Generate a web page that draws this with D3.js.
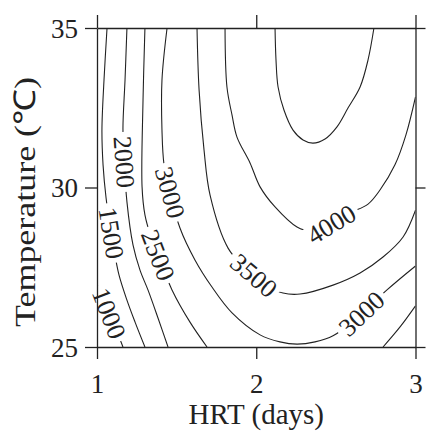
<!DOCTYPE html>
<html>
<head>
<meta charset="utf-8">
<script src="https://cdn.jsdelivr.net/npm/d3@7"></script>
<style>
  body { margin: 0; background: #fff; }
  text { font-family: "Liberation Serif", "Times New Roman", serif; fill: #222; }
</style>
</head>
<body>
<svg id="chart" width="428" height="431"></svg>
<script>
// Contour lines, in data units: [HRT (days), Temperature (C)]
const line1000 = [[1.000, 26.97], [1.038, 26.54], [1.082, 25.97], [1.126, 25.47], [1.163, 25.00]];
const line1500 = [[1.063, 35.00], [1.044, 33.37], [1.031, 31.80], [1.038, 30.71], [1.057, 29.67], [1.082, 28.82],
                  [1.107, 28.04], [1.138, 27.26], [1.188, 26.47], [1.239, 25.78], [1.301, 25.00]];
const line2000 = [[1.188, 35.00], [1.176, 33.37], [1.163, 31.87], [1.170, 30.86], [1.188, 29.55], [1.226, 28.20],
                  [1.270, 27.41], [1.320, 26.79], [1.383, 25.91], [1.446, 25.00]];
const line2500 = [[1.301, 35.00], [1.289, 32.74], [1.283, 30.02], [1.301, 29.14], [1.339, 28.45], [1.383, 27.88],
                  [1.471, 26.79], [1.584, 25.78], [1.691, 25.00]];
const line2500b = [[2.796, 25.00], [2.903, 25.63], [3.000, 26.29]];
const line3000 = [[1.440, 35.00], [1.408, 33.37], [1.408, 31.80], [1.421, 30.71], [1.458, 29.86], [1.521, 28.73],
                  [1.615, 27.73], [1.722, 26.88], [1.848, 26.07], [2.024, 25.38], [2.149, 25.16], [2.256, 25.09],
                  [2.369, 25.16], [2.482, 25.35], [2.652, 26.00], [2.821, 26.79], [3.000, 27.54]];
const line3500 = [[1.628, 35.00], [1.641, 33.06], [1.672, 31.18], [1.710, 29.76], [1.823, 28.10], [1.929, 27.48],
                  [2.055, 26.94], [2.168, 26.69], [2.275, 26.66], [2.482, 26.94], [2.652, 27.32], [2.796, 27.82],
                  [2.922, 28.45], [3.000, 29.29]];
const line4000 = [[1.804, 35.00], [1.816, 33.15], [1.848, 32.27], [1.879, 31.58], [1.961, 30.77], [2.024, 30.02],
                  [2.118, 29.39], [2.256, 28.76], [2.338, 28.64], [2.463, 28.82], [2.589, 29.20], [2.702, 29.48],
                  [2.777, 29.92], [2.871, 30.71], [2.940, 31.65], [3.000, 32.84]];
const line4500 = [[2.118, 35.00], [2.124, 34.00], [2.137, 33.15], [2.174, 32.43], [2.231, 31.80], [2.294, 31.49],
                  [2.356, 31.39], [2.432, 31.52], [2.507, 31.90], [2.576, 32.49], [2.652, 33.15], [2.702, 34.00],
                  [2.739, 35.00]];

const contourLevels = [1000, 1500, 2000, 2500, 2500, 3000, 3500, 4000, 4500];
const contourPoints = [line1000, line1500, line2000, line2500, line2500b, line3000, line3500, line4000, line4500];

// Where each contour label sits, in data units
const labelLevels = [1000, 1500, 2000, 2500, 3000, 3500, 4000, 3000];
const labelHrt    = [1.100, 1.088, 1.170, 1.383, 1.471, 1.998, 2.463, 2.651];
const labelTemp   = [26.10, 28.57, 30.80, 27.88, 29.86, 27.32, 28.92, 26.10];

const xTicks = [1, 2, 3];
const yTicks = [25, 30, 35];

const svg = d3.select("#chart");
const margin = { top: 28, right: 12.5, bottom: 84, left: 97 };
const width = +svg.attr("width");
const height = +svg.attr("height");

const x = d3.scaleLinear().domain([1, 3]).range([margin.left, width - margin.right]);
const y = d3.scaleLinear().domain([25, 35]).range([height - margin.bottom, margin.top]);

svg.append("clipPath").attr("id", "plot-clip")
  .append("rect")
  .attr("x", x(1)).attr("y", y(35))
  .attr("width", x(3) - x(1)).attr("height", y(25) - y(35));

// contour lines
const lineGen = d3.line()
  .x(d => x(d[0]))
  .y(d => y(d[1]))
  .curve(d3.curveCatmullRom.alpha(0.5));

svg.append("g")
  .attr("clip-path", "url(#plot-clip)")
  .selectAll("path")
  .data(contourPoints)
  .join("path")
  .attr("d", lineGen)
  .attr("fill", "none")
  .attr("stroke", "#222")
  .attr("stroke-width", 1.1);

// snap a label onto its contour and take the local direction
function placeOnContour(level, hx, ht) {
  const px = x(hx), py = y(ht);
  let best = null;
  contourPoints.forEach((pts, i) => {
    if (contourLevels[i] !== level) return;
    for (let k = 0; k < pts.length - 1; k++) {
      const ax = x(pts[k][0]), ay = y(pts[k][1]);
      const bx = x(pts[k + 1][0]), by = y(pts[k + 1][1]);
      const dx = bx - ax, dy = by - ay;
      let t = ((px - ax) * dx + (py - ay) * dy) / (dx * dx + dy * dy);
      t = Math.max(0, Math.min(1, t));
      const qx = ax + t * dx, qy = ay + t * dy;
      const dist = Math.hypot(px - qx, py - qy);
      if (!best || dist < best.dist) best = { dist, qx, qy, angle: Math.atan2(dy, dx) * 180 / Math.PI };
    }
  });
  let a = best.angle;
  if (a > 90) a -= 180;
  if (a <= -90) a += 180;
  return { x: best.qx, y: best.qy, angle: a };
}

const labelGroup = svg.append("g");
labelLevels.forEach((lv, i) => {
  const p = placeOnContour(lv, labelHrt[i], labelTemp[i]);
  const g = labelGroup.append("g")
    .attr("transform", `translate(${p.x},${p.y}) rotate(${p.angle})`);
  const rect = g.append("rect").attr("fill", "#fff");
  const t = g.append("text")
    .attr("text-anchor", "middle")
    .attr("dy", "0.34em")
    .style("font-size", "26px")
    .text(lv);
  const w = t.node().getComputedTextLength();
  rect.attr("x", -w / 2 - 4).attr("y", -10).attr("width", w + 8).attr("height", 20);
});

// axes on all four sides
const axisStyle = g => {
  g.selectAll(".domain").attr("stroke", "#222").attr("stroke-width", 1.3);
  g.selectAll(".tick line").attr("stroke", "#222").attr("stroke-width", 1.3);
  g.selectAll(".tick text").style("font-size", "27px").attr("fill", "#222");
};

svg.append("g")
  .attr("transform", `translate(${margin.left},0)`)
  .call(d3.axisLeft(y).tickValues(yTicks).tickSize(12).tickSizeOuter(0).tickPadding(7).tickFormat(d3.format("d")))
  .call(axisStyle)
  .call(g => g.selectAll(".tick text").attr("dy", "0.34em"));

svg.append("g")
  .attr("transform", `translate(0,${height - margin.bottom})`)
  .call(d3.axisBottom(x).tickValues(xTicks).tickSize(12).tickSizeOuter(0).tickPadding(15).tickFormat(d3.format("d")))
  .call(axisStyle);

svg.append("g")
  .attr("transform", `translate(0,${margin.top})`)
  .call(d3.axisTop(x).tickValues(xTicks).tickSize(13).tickSizeOuter(0).tickFormat(""))
  .call(axisStyle);

svg.append("g")
  .attr("transform", `translate(${width - margin.right},0)`)
  .call(d3.axisRight(y).tickValues(yTicks).tickSize(10).tickSizeOuter(0).tickFormat(""))
  .call(axisStyle);

// axis titles
svg.append("text")
  .attr("x", (x(1) + x(3)) / 2)
  .attr("y", 424)
  .attr("text-anchor", "middle")
  .style("font-size", "29px")
  .text("HRT (days)");

svg.append("text")
  .attr("transform", `translate(35,202) rotate(-90)`)
  .attr("text-anchor", "middle")
  .attr("textLength", 250)
  .attr("lengthAdjust", "spacingAndGlyphs")
  .style("font-size", "30px")
  .text("Temperature (℃)");
</script>
</body>
</html>
